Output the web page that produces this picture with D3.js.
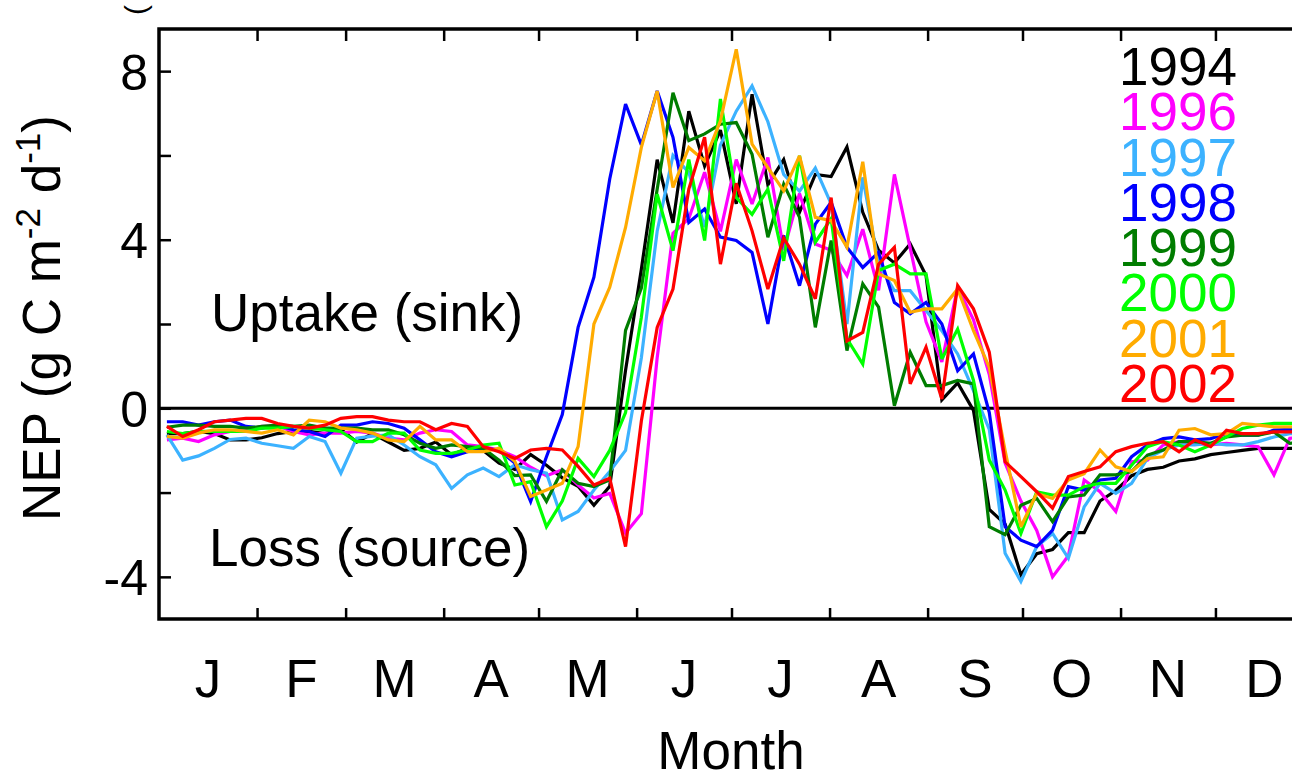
<!DOCTYPE html>
<html><head><meta charset="utf-8">
<script src="https://cdn.jsdelivr.net/npm/d3@7"></script>
<style>
body{margin:0;background:#fff}
svg{display:block;font-family:"Liberation Sans",Arial,Helvetica,sans-serif}
</style>
</head><body>
<svg id="chart" width="1292" height="777"></svg>
<script>
// ---- data (5-day means, NEP g C m-2 d-1) ----
const years = ["1994","1996","1997","1998","1999","2000","2001","2002"];
const yearColors = ["#000000","#ff00ff","#3cb2ff","#0000ff","#007d00","#00ff00","#ffab00","#ff0000"];
const monthLabels = ["J","F","M","A","M","J","J","A","S","O","N","D"];
const monthStarts = [0,31,59,90,120,151,181,212,243,273,304,334,365];
const yTickValues = [-4,-2,0,2,4,6,8];
const yTickLabels = [-4,0,4,8];
const periodDays = 5;

const nep1994 = [-0.6,-0.6,-0.55,-0.6,-0.75,-0.75,-0.7,-0.6,-0.55,-0.55,
 -0.6,-0.5,-0.8,-0.6,-0.8,-1.0,-0.95,-0.8,-1.1,-0.95,
 -1.0,-1.3,-1.45,-1.1,-1.35,-1.65,-1.85,-2.3,-1.85,0.9,
 3.3,5.9,4.4,7.05,5.75,6.6,4.85,7.45,5.3,5.9,
 4.65,5.55,5.5,6.2,4.65,3.75,3.45,3.9,3.15,0.2,
 0.6,-0.05,-2.4,-2.75,-3.95,-3.45,-3.35,-2.95,-2.95,-2.2,
 -1.95,-1.6,-1.45,-1.4,-1.25,-1.2,-1.1,-1.05,-1.0,-0.95,
 -0.95,-0.95,-0.95];
const nep1996 = [-0.75,-0.71,-0.79,-0.63,-0.55,-0.51,-0.43,-0.42,-0.55,-0.63,
 -0.59,-0.59,-0.55,-0.59,-0.71,-0.75,-0.59,-0.51,-0.55,-0.87,
 -0.91,-0.99,-1.15,-1.4,-1.6,-1.46,-1.82,-2.13,-2.02,-2.96,
 -2.5,1.2,4.15,4.5,5.6,4.2,5.9,4.85,5.95,3.75,
 5.1,3.9,3.75,3.15,4.25,2.8,5.55,3.8,2.05,1.1,
 2.87,2.1,0.8,-1.3,-2.2,-2.9,-4.0,-3.5,-1.7,-1.98,
 -2.45,-1.27,-1.23,-0.87,-0.79,-0.83,-0.87,-0.83,-0.87,-0.91,
 -1.58,-0.71,-0.7];
const nep1997 = [-0.63,-1.23,-1.13,-0.95,-0.74,-0.71,-0.83,-0.89,-0.95,-0.67,
 -0.79,-1.54,-0.71,-0.66,-0.63,-0.87,-1.15,-1.34,-1.9,-1.58,
 -1.42,-1.62,-1.34,-1.46,-1.54,-2.65,-2.45,-1.94,-1.5,-1.0,
 1.2,4.2,6.0,5.6,4.3,6.25,7.05,7.65,6.8,5.55,
 5.15,5.7,4.85,2.0,5.48,3.43,2.79,2.79,2.32,1.84,
 1.29,0.42,-0.5,-3.44,-4.11,-3.28,-2.97,-3.56,-2.34,-1.78,
 -2.02,-1.78,-1.19,-0.99,-0.87,-0.87,-0.83,-0.87,-0.87,-0.79,
 -0.68,-0.6,-0.6];
const nep1998 = [-0.32,-0.32,-0.4,-0.32,-0.28,-0.43,-0.47,-0.4,-0.51,-0.55,
 -0.67,-0.4,-0.4,-0.32,-0.36,-0.47,-0.75,-1.03,-1.15,-1.03,
 -0.95,-0.99,-1.3,-2.21,-1.15,-0.15,1.92,3.11,5.44,7.22,
 6.25,7.53,6.43,4.41,4.73,4.06,3.98,3.7,2.0,4.1,
 2.91,4.37,4.89,3.82,3.34,3.7,2.51,2.24,2.51,2.0,
 0.89,1.29,-0.1,-2.81,-3.13,-3.28,-2.89,-1.86,-1.94,-1.7,
 -1.66,-1.15,-0.87,-0.72,-0.68,-0.75,-0.72,-0.6,-0.64,-0.64,
 -0.52,-0.5,-0.5];
const nep1999 = [-0.45,-0.4,-0.4,-0.43,-0.43,-0.47,-0.43,-0.4,-0.43,-0.4,
 -0.47,-0.47,-0.47,-0.51,-0.51,-0.63,-0.83,-0.95,-0.87,-0.91,
 -0.95,-1.23,-1.6,-1.58,-2.21,-1.46,-1.78,-1.86,-1.7,1.85,
 2.85,5.2,7.49,6.35,6.51,6.74,6.78,6.03,4.06,5.32,
 4.53,1.92,3.98,1.37,2.95,2.4,0.06,1.33,0.54,0.54,
 0.66,0.58,-2.81,-3.0,-2.3,-2.14,-2.69,-2.1,-2.06,-1.58,
 -1.58,-1.5,-1.11,-0.99,-0.79,-0.79,-0.83,-0.68,-0.64,-0.64,
 -0.56,-0.83,-0.8];
const nep2000 = [-0.55,-0.6,-0.55,-0.55,-0.55,-0.55,-0.47,-0.47,-0.43,-0.47,
 -0.51,-0.55,-0.79,-0.79,-0.59,-0.59,-0.99,-1.07,-1.07,-0.99,
 -0.87,-0.83,-1.82,-1.74,-2.81,-2.2,-1.19,-1.62,-1.0,-0.1,
 2.16,5.08,3.74,5.9,3.98,7.34,5.0,4.6,5.2,3.5,
 5.99,3.94,4.5,1.65,1.05,3.27,3.42,3.19,3.19,1.17,
 1.88,0.66,-1.23,-1.94,-2.97,-1.98,-2.06,-2.06,-1.86,-1.78,
 -1.78,-1.35,-0.91,-0.79,-0.87,-1.03,-0.87,-0.68,-0.48,-0.4,
 -0.36,-0.36,-0.36];
const nep2001 = [-0.67,-0.71,-0.59,-0.51,-0.51,-0.55,-0.59,-0.51,-0.63,-0.28,
 -0.32,-0.47,-0.51,-0.59,-0.75,-0.79,-0.43,-0.75,-0.75,-1.03,
 -1.03,-0.95,-1.26,-2.09,-1.94,-1.78,-0.91,2.0,2.87,4.29,
 6.19,7.53,5.24,6.19,5.87,6.82,8.52,6.27,5.71,5.16,
 5.99,4.53,4.45,3.82,5.85,3.19,3.03,2.28,2.36,2.36,
 2.83,1.84,0.97,-1.0,-2.81,-2.02,-2.14,-1.7,-1.55,-0.99,
 -1.39,-1.5,-1.19,-1.15,-0.52,-0.48,-0.63,-0.6,-0.36,-0.4,
 -0.44,-0.44,-0.44];
const nep2002 = [-0.43,-0.67,-0.51,-0.32,-0.28,-0.24,-0.24,-0.36,-0.43,-0.47,
 -0.4,-0.24,-0.2,-0.2,-0.28,-0.32,-0.32,-0.51,-0.36,-0.43,
 -0.91,-1.03,-1.19,-0.99,-0.95,-0.99,-1.38,-1.82,-1.66,-3.28,
 -0.3,1.92,2.83,5.2,6.43,3.42,5.34,4.21,2.83,4.04,
 3.42,2.6,5.0,1.6,1.8,3.42,3.82,0.58,1.45,0.22,
 2.91,2.36,1.33,-1.27,-1.62,-1.98,-2.37,-1.62,-1.5,-1.39,
 -1.03,-0.91,-0.83,-0.79,-1.03,-0.75,-0.91,-0.52,-0.6,-0.6,
 -0.56,-0.56,-0.56];

const seriesValues = [nep1994,nep1996,nep1997,nep1998,nep1999,nep2000,nep2001,nep2002];

(function draw(){
  const svg = d3.select("#chart");
  const plotLeft = 159, plotTop = 29, plotBottom = 619;
  const pxPerDay = 3.163;
  const plotRight = plotLeft + 365*pxPerDay;   // plot extends beyond the visible window

  const x = d3.scaleLinear().domain([0,365]).range([plotLeft,plotRight]);
  const y = d3.scaleLinear().domain([-5,9]).range([plotBottom,plotTop]);

  svg.append("defs").append("clipPath").attr("id","plotclip")
    .append("rect").attr("x",plotLeft).attr("y",plotTop)
    .attr("width",plotRight-plotLeft).attr("height",plotBottom-plotTop);

  // cropped fragment at the very top
  svg.append("text").attr("transform","translate(146,15) rotate(-90)")
    .attr("font-size",30).text("(");

  // zero line
  svg.append("line").attr("x1",plotLeft).attr("x2",plotRight).attr("y1",y(0)).attr("y2",y(0))
    .attr("stroke","#000").attr("stroke-width",3);

  // series lines
  const line = d3.line()
    .x((d,i)=>x(periodDays/2 + i*periodDays))
    .y(d=>y(d));
  const g = svg.append("g").attr("clip-path","url(#plotclip)");
  seriesValues.forEach((vals,k)=>{
    g.append("path").datum(vals).attr("d",line)
      .attr("fill","none").attr("stroke",yearColors[k]).attr("stroke-width",3.2)
      .attr("stroke-linejoin","miter").attr("stroke-miterlimit",3);
  });

  // axes (inward ticks)
  const xb = svg.append("g").attr("transform",`translate(0,${plotBottom})`)
    .call(d3.axisBottom(x).tickValues(monthStarts.slice(1,12)).tickSize(-11).tickFormat(""));
  const xt = svg.append("g").attr("transform",`translate(0,${plotTop})`)
    .call(d3.axisTop(x).tickValues(monthStarts.slice(1,12)).tickSize(-12).tickFormat(""));
  const yl = svg.append("g").attr("transform",`translate(${plotLeft},0)`)
    .call(d3.axisLeft(y).tickValues(yTickValues).tickSize(-12).tickPadding(11)
      .tickFormat(d=>yTickLabels.includes(d)?String(d):""));
  [xb,xt,yl].forEach(a=>{
    a.select(".domain").remove();
    a.selectAll(".tick line").attr("stroke","#000").attr("stroke-width",2.5);
  });
  yl.selectAll(".tick text").attr("font-size",50).attr("fill","#000")
    .attr("font-family","'Liberation Sans',Arial,sans-serif").attr("dy","0.36em");

  // frame
  svg.append("rect").attr("x",plotLeft).attr("y",plotTop)
    .attr("width",plotRight-plotLeft).attr("height",plotBottom-plotTop)
    .attr("fill","none").attr("stroke","#000").attr("stroke-width",3.5);

  // month labels
  svg.append("g").selectAll("text").data(monthLabels).join("text")
    .attr("x",(d,i)=>x((monthStarts[i]+monthStarts[i+1])/2))
    .attr("y",697).attr("text-anchor","middle").attr("font-size",53).text(d=>d);

  svg.append("text").attr("x",731).attr("y",769).attr("text-anchor","middle")
    .attr("font-size",53).text("Month");

  // y label
  const yt = svg.append("text").attr("transform","translate(60,318) rotate(-90)")
    .attr("text-anchor","middle").attr("font-size",53);
  yt.append("tspan").text("NEP (g C m");
  yt.append("tspan").attr("font-size",35).attr("dy",-20).text("-2");
  yt.append("tspan").attr("dy",20).text(" d");
  yt.append("tspan").attr("font-size",35).attr("dy",-20).text("-1");
  yt.append("tspan").attr("dy",20).text(")");

  // annotations
  svg.append("text").attr("x",211).attr("y",331).attr("font-size",53).text("Uptake (sink)");
  svg.append("text").attr("x",209).attr("y",566).attr("font-size",53).text("Loss (source)");

  // legend
  svg.append("g").selectAll("text").data(years).join("text")
    .attr("x",1237).attr("y",(d,i)=>85+i*45.25).attr("text-anchor","end")
    .attr("font-size",53).attr("fill",(d,i)=>yearColors[i]).text(d=>d);
})();
</script>
</body></html>
